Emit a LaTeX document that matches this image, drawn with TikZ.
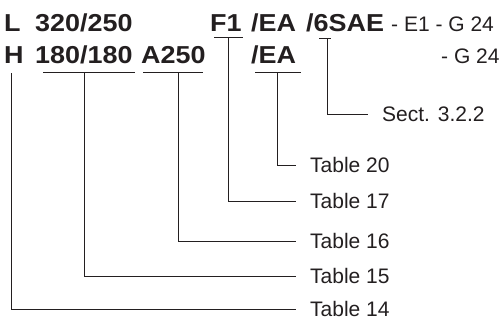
\documentclass[tikz,border=0pt]{standalone}
\usepackage{fontspec}
\setmainfont{Liberation Sans}
\newfontfamily\boldfam{Liberation Sans}[FakeStretch=1.1]
\definecolor{ink}{HTML}{231F20}
\begin{document}
\begin{tikzpicture}[x=1pt,y=-1pt,
  big/.style={anchor=base west, inner sep=0pt, text=ink, font=\boldfam\bfseries\fontsize{24.5}{24.5}\selectfont},
  small/.style={anchor=base west, inner sep=0pt, text=ink, font=\fontsize{21}{21}\selectfont},
  lbl/.style={anchor=west, inner xsep=14pt, inner ysep=0pt, text=ink, font=\fontsize{21}{21}\selectfont},
  conn/.style={draw=ink, line width=0.9pt}]
\useasboundingbox (0,0) rectangle (502,322);
% top row
\node[big] (L) at (4,31) {L};
\node[big] (n320) at (35,31) {320/250};
\node[big] (F1) at (210,31) {F1};
\node[big] (EA1) at (251,31) {/EA};
\node[big] (SAE) at (306,31) {/6SAE};
\node[small] (E1) at (391,31) {- E1 - G 24};
% second row
\node[big] (H) at (4,63) {H};
\node[big] (n180) at (35,63) {180/180};
\node[big] (A250) at (141,63) {A250};
\node[big] (EA2) at (251,63) {/EA};
\node[small] (G24) at (441,63) {- G 24};
% labels
\node[lbl] (sect) at (368,114) {Sect. 3.2.2};
\node[lbl] (t20) at (296,165) {Table 20};
\node[lbl] (t17) at (296,201) {Table 17};
\node[lbl] (t16) at (296,241) {Table 16};
\node[lbl] (t15) at (296,276) {Table 15};
\node[lbl] (t14) at (296,309) {Table 14};
% bar coordinates
\coordinate (lh) at (11,73);
\coordinate (b180l) at (43,72);  \coordinate (b180r) at (135,72); \coordinate (b180m) at (84,72);
\coordinate (bAl) at (143,72);   \coordinate (bAr) at (203,72);   \coordinate (bAm) at (178,72);
\coordinate (bFl) at (214,37);   \coordinate (bFr) at (243,37);   \coordinate (bFm) at (228,37);
\coordinate (bEl) at (255,72);   \coordinate (bEr) at (301,72);   \coordinate (bEm) at (277,72);
\coordinate (b6l) at (319,38);   \coordinate (b6r) at (331,38);   \coordinate (b6m) at (327,38);
% bars
\draw[conn] (b180l) -- (b180r);
\draw[conn] (bAl) -- (bAr);
\draw[conn] (bFl) -- (bFr);
\draw[conn] (bEl) -- (bEr);
\draw[conn] (b6l) -- (b6r);
% connectors
\draw[conn] (lh) |- (t14.west);
\draw[conn] (b180m) |- (t15.west);
\draw[conn] (bAm) |- (t16.west);
\draw[conn] (bFm) |- (t17.west);
\draw[conn] (bEm) |- (t20.west);
\draw[conn] (b6m) |- (sect.west);
\end{tikzpicture}
\end{document}
